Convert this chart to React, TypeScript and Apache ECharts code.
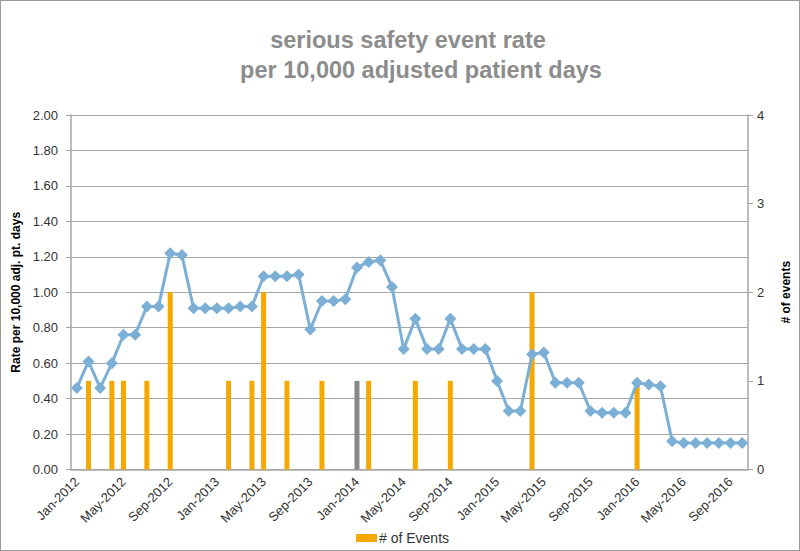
import React, { useEffect, useRef } from "react";
import * as echarts from "echarts";

const months = ["Jan", "Feb", "Mar", "Apr", "May", "Jun", "Jul", "Aug", "Sep", "Oct", "Nov", "Dec"];
const years = [2012, 2013, 2014, 2015, 2016];
const categories: string[] = [];
years.forEach((y) => months.forEach((m) => categories.push(`${m}-${y}`)));
const cats = categories.slice(0, 58); // Jan-2012 .. Oct-2016

const rate = [
  0.46, 0.61, 0.46, 0.6, 0.76, 0.76, 0.92, 0.92, 1.22, 1.21, 0.91, 0.91,
  0.91, 0.91, 0.92, 0.92, 1.09, 1.09, 1.09, 1.1, 0.79, 0.95, 0.95, 0.96,
  1.14, 1.17, 1.18, 1.03, 0.68, 0.85, 0.68, 0.68, 0.85, 0.68, 0.68, 0.68,
  0.5, 0.33, 0.33, 0.65, 0.66, 0.49, 0.49, 0.49, 0.33, 0.32, 0.32, 0.32,
  0.49, 0.48, 0.47, 0.16, 0.15, 0.15, 0.15, 0.15, 0.15, 0.15,
];

const events = [
  0, 1, 0, 1, 1, 0, 1, 0, 2, 0, 0, 0,
  0, 1, 0, 1, 2, 0, 1, 0, 0, 1, 0, 0,
  1, 1, 0, 0, 0, 1, 0, 0, 1, 0, 0, 0,
  0, 0, 0, 2, 0, 0, 0, 0, 0, 0, 0, 0,
  1, 0, 0, 0, 0, 0, 0, 0, 0, 0,
];

const grayEventMonth = "Jan-2014";

const FONT = "'Liberation Sans', Arial, sans-serif";

export default function App() {
  const ref = useRef<HTMLDivElement>(null);
  useEffect(() => {
    if (!ref.current) return;
    const chart = echarts.init(ref.current, undefined, { renderer: "svg" });
    const barData = events.map((v, i) =>
      v === 0
        ? null
        : cats[i] === grayEventMonth
        ? { value: v, itemStyle: { color: "#888888" } }
        : v
    );
    chart.setOption({
      animation: false,
      textStyle: { fontFamily: FONT },
      graphic: [
        {
          type: "text",
          x: 408,
          y: 40,
          style: {
            text: "serious safety event rate",
            font: `bold 23.5px ${FONT}`,
            fill: "#8c8c8c",
            textAlign: "center",
            textVerticalAlign: "middle",
          },
        },
        {
          type: "text",
          x: 421,
          y: 70,
          style: {
            text: "per 10,000 adjusted patient days",
            font: `bold 23.5px ${FONT}`,
            fill: "#8c8c8c",
            textAlign: "center",
            textVerticalAlign: "middle",
          },
        },
      ],
      legend: {
        data: ["# of Events"],
        left: 351,
        top: 526,
        itemWidth: 21,
        itemHeight: 8,
        itemGap: 4,
        icon: "rect",
        textStyle: { fontSize: 14, color: "#333", fontFamily: FONT, padding: [0, 0, 0, -3] },
      },
      grid: { left: 71, right: 50, top: 115, bottom: 81.5 },
      xAxis: {
        type: "category",
        data: cats,
        boundaryGap: true,
        axisLine: { lineStyle: { color: "#a6a6a6", width: 1.5 } },
        axisTick: { interval: 3, length: 5, lineStyle: { color: "#a6a6a6" } },
        axisLabel: {
          interval: 3,
          rotate: 45,
          fontSize: 13,
          color: "#333",
          fontFamily: FONT,
          margin: 10,
        },
      },
      yAxis: [
        {
          type: "value",
          min: 0,
          max: 2,
          interval: 0.2,
          name: "Rate per 10,000 adj. pt. days",
          nameLocation: "middle",
          nameGap: 48,
          nameRotate: 90,
          nameTextStyle: { fontSize: 12, fontWeight: "bold", color: "#000", fontFamily: FONT },
          axisLine: { show: true, lineStyle: { color: "#a6a6a6", width: 1.5 } },
          axisTick: { show: true, length: 5, lineStyle: { color: "#a6a6a6" } },
          axisLabel: {
            formatter: (v: number) => v.toFixed(2),
            fontSize: 13,
            color: "#333",
            fontFamily: FONT,
            margin: 13,
          },
          splitLine: { lineStyle: { color: "#a6a6a6", width: 1.2 } },
        },
        {
          type: "value",
          min: 0,
          max: 4,
          interval: 1,
          name: "# of events",
          nameLocation: "middle",
          nameGap: 32,
          nameRotate: 90,
          nameTextStyle: { fontSize: 12, fontWeight: "bold", color: "#000", fontFamily: FONT },
          axisLine: { show: true, lineStyle: { color: "#a6a6a6", width: 1.5 } },
          axisTick: { show: true, length: 5, lineStyle: { color: "#a6a6a6" } },
          axisLabel: { fontSize: 13, color: "#333", fontFamily: FONT, margin: 9 },
          splitLine: { show: false },
        },
      ],
      series: [
        {
          name: "# of Events",
          type: "bar",
          yAxisIndex: 1,
          data: barData,
          barWidth: 5,
          itemStyle: { color: "#f5a800" },
          z: 2,
        },
        {
          name: "rate",
          type: "line",
          yAxisIndex: 0,
          data: rate,
          symbol: "diamond",
          symbolSize: 12,
          showAllSymbol: true,
          lineStyle: { color: "#7bafd6", width: 3 },
          itemStyle: { color: "#7bafd6" },
          z: 3,
        },
      ],
    });
    return () => chart.dispose();
  }, []);
  return (
    <div
      style={{
        position: "fixed",
        left: 0,
        top: 0,
        width: 800,
        height: 551,
        boxSizing: "border-box",
        border: "1px solid #9a9a9a",
        background: "#fff",
      }}
    >
      <div ref={ref} style={{ position: "absolute", left: -1, top: -1, width: 800, height: 551 }} />
    </div>
  );
}
